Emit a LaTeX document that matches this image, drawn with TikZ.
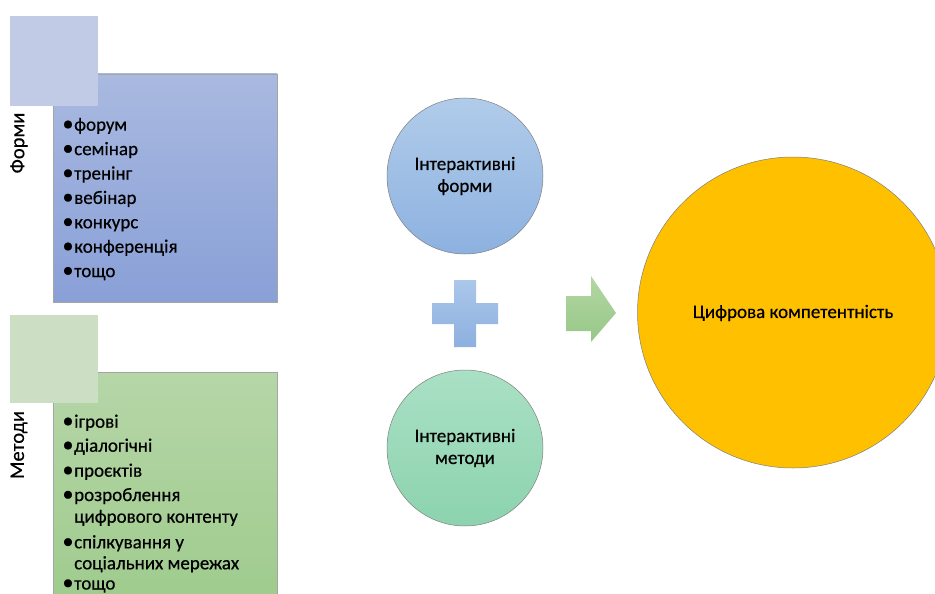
\documentclass[tikz,border=0pt]{standalone}
\usepackage{fontspec}
\setmainfont{Carlito}[FakeBold=0.5]
\definecolor{sqA}{HTML}{C1CBE6}
\definecolor{boxAtop}{HTML}{A9B9E0}
\definecolor{boxAbot}{HTML}{89A0D7}
\definecolor{sqB}{HTML}{CCDFC5}
\definecolor{boxBtop}{HTML}{B6D6A8}
\definecolor{boxBbot}{HTML}{9ECB8C}
\definecolor{cirAtop}{HTML}{B1CCEA}
\definecolor{cirAbot}{HTML}{8DB1E0}
\definecolor{cirBtop}{HTML}{AAE0C5}
\definecolor{cirBbot}{HTML}{8CD3AE}
\definecolor{plusTop}{HTML}{ABC7EA}
\definecolor{plusBot}{HTML}{8DB0DF}
\definecolor{arrTop}{HTML}{B3D7A2}
\definecolor{arrBot}{HTML}{97C788}
\definecolor{gold}{HTML}{FFC000}
\definecolor{edge}{HTML}{7F7F7F}
\tikzset{
  lbl/.style={font=\fontsize{20.5}{24}\selectfont, inner sep=0pt},
  itm/.style={font=\fontsize{19}{22}\selectfont, inner sep=0pt, anchor=base west},
  bul/.style={font=\fontsize{22}{22}\selectfont, inner sep=0pt, anchor=base},
  bigbox/.style={draw=edge!70, line width=0.6pt},
  cir/.style={circle, draw=edge, line width=0.5pt, minimum size=156pt, inner sep=0pt,
    align=center, font=\fontsize{19}{22}\selectfont},
}
\begin{document}
\begin{tikzpicture}[x=1pt,y=-1pt]
\useasboundingbox (0,0) rectangle (935,594);
\clip (0,0) rectangle (935,594);
% Forms group
\path[bigbox, top color=boxAtop, bottom color=boxAbot] (53,74) rectangle (277,302);
\fill[sqA] (10,16) rectangle (98,106);
\node[lbl, rotate=90] (formsLabel) at (19,143) {Форми};
\foreach \y/\t [count=\i] in {130.7/форум,155.1/семінар,179.5/тренінг,203.9/вебінар,228.3/конкурс,252.7/конференція,277.1/тощо}{
  \node[bul] (fb\i) at (68,\y) {•};
  \node[itm] (ft\i) at (74,\y) {\t};
}
% Methods group
\path[bigbox, top color=boxBtop, bottom color=boxBbot] (53,372) rectangle (277,610);
\fill[sqB] (10,315) rectangle (98,403);
\node[lbl, rotate=90] (methLabel) at (19,445) {Методи};
\foreach \y/\t [count=\i] in {427.7/ігрові,451.7/діалогічні,476.7/проєктів,501/розроблення,548.3/спілкування у,589.5/тощо}{
  \node[bul] (mb\i) at (68,\y) {•};
  \node[itm] (mt\i) at (74,\y) {\t};
}
\node[itm] (mt4b) at (74,522.7) {цифрового контенту};
\node[itm] (mt5b) at (74,569.3) {соціальних мережах};
% Circles
\node[cir, top color=cirAtop, bottom color=cirAbot] (forms) at (465,176) {Інтерактивні\\форми};
\node[cir, top color=cirBtop, bottom color=cirBbot] (methods) at (465,448) {Інтерактивні\\методи};
% Plus
\path[top color=plusTop, bottom color=plusBot]
  (454,280) -- (476,280) -- (476,303) -- (498,303) -- (498,324) -- (476,324) -- (476,347)
  -- (454,347) -- (454,324) -- (432,324) -- (432,303) -- (454,303) -- cycle;
% Arrow
\path[top color=arrTop, bottom color=arrBot]
  (566,296) -- (591,296) -- (591,276) -- (616,313) -- (591,342) -- (591,331) -- (566,331) -- cycle;
% Result
\node[circle, draw=edge, line width=0.5pt, fill=gold, minimum size=311pt, inner sep=0pt] (result) at (793,312.5) {};
\node[font=\fontsize{19}{22}\selectfont, inner sep=0pt] (resultText) at (793,313) {Цифрова компетентність};
\end{tikzpicture}
\end{document}
